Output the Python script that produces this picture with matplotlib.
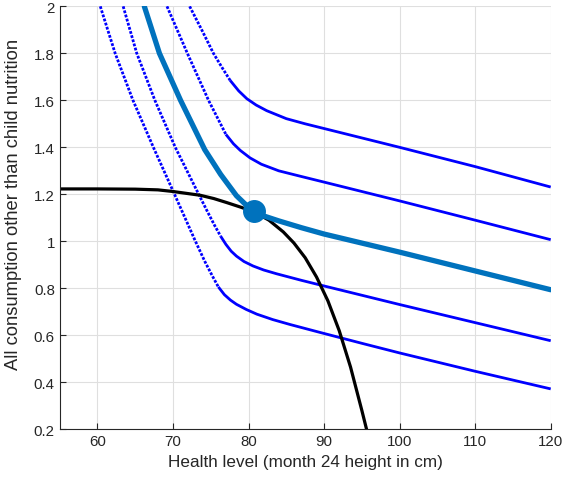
import matplotlib
matplotlib.use("Agg")
import matplotlib.pyplot as plt

plt.rcParams["font.family"] = ["Liberation Sans", "DejaVu Sans"]

# production possibility frontier (health vs other consumption)
ppf_h = [55, 60, 65, 68, 70, 73.6, 75.4, 77.1, 79.0, 80.74, 82.7, 84.6, 86.0, 87.5, 89.0, 90.5, 92.0, 93.5, 95.0, 95.7]
ppf_c = [1.223, 1.223, 1.222, 1.219, 1.212, 1.196, 1.182, 1.165, 1.145, 1.125, 1.09, 1.04, 0.993, 0.93,
         0.848, 0.747, 0.62, 0.465, 0.28, 0.19]

# indifference curves, lowest to highest
ic_a_h = [60.37, 62.34, 64.7, 67.4, 70.2, 72.9, 74.2, 75.2, 76.0, 76.8, 77.6, 78.4, 79.7, 81.1, 83.2,
          85.5, 89.5, 95, 100, 110, 120]
ic_a_c = [2.0, 1.8, 1.6, 1.4, 1.2, 1.005, 0.915, 0.853, 0.806, 0.773, 0.75, 0.732, 0.71, 0.69, 0.667,
          0.646, 0.612, 0.566, 0.525, 0.447, 0.372]

ic_b_h = [63.4, 65.2, 67.6, 70.3, 73.4, 74.5, 75.5, 76.3, 77.0, 77.7, 78.4, 79.4, 80.6, 82.0, 83.7,
          87.0, 90, 100, 110, 120]
ic_b_c = [2.0, 1.8, 1.6, 1.4, 1.2, 1.13, 1.068, 1.022, 0.987, 0.958, 0.937, 0.914, 0.895, 0.878, 0.862,
          0.834, 0.81, 0.731, 0.654, 0.577]

ic_d_h = [69.2, 71.9, 74.7, 77.0, 78.0, 78.9, 80.2, 81.7, 84.0, 86.85, 90, 100, 110, 120]
ic_d_c = [2.0, 1.8, 1.6, 1.455, 1.415, 1.387, 1.355, 1.328, 1.3, 1.277, 1.252, 1.172, 1.09, 1.007]

ic_e_h = [72.2, 73.8, 75.35, 76.5, 77.56, 78.7, 79.77, 81.0, 82.4, 85.0, 87.5, 90, 100, 110, 120]
ic_e_c = [2.0, 1.9, 1.8, 1.739, 1.685, 1.64, 1.607, 1.58, 1.556, 1.522, 1.5, 1.48, 1.4, 1.318, 1.231]

# the curve through the optimum
opt_h = [66.2, 68.2, 71.0, 74.2, 76.3, 78.4, 79.6, 80.74, 82.2, 84.0, 87.0, 90, 100, 110, 120]
opt_c = [2.0, 1.8, 1.6, 1.39, 1.285, 1.194, 1.157, 1.128, 1.106, 1.087, 1.058, 1.031, 0.954, 0.874, 0.794]
best_h, best_c = 80.74, 1.128

fig = plt.figure(figsize=(5.65, 4.89), dpi=100)
ax = fig.add_axes([0.1057, 0.12, 0.869, 0.865])

# steep parts look dotted (sparse samples), flat parts solid
for h, c in [(ic_a_h, ic_a_c), (ic_b_h, ic_b_c), (ic_d_h, ic_d_c), (ic_e_h, ic_e_c)]:
    k = 0
    while k < len(h) - 1 and abs((c[k + 1] - c[k]) / (h[k + 1] - h[k])) > 0.05:
        k += 1
    ax.plot(h[:k + 1], c[:k + 1], color="#0000ff", lw=2.0, linestyle=(0, (1.0, 0.55)), dash_capstyle="butt")
    ax.plot(h[k:], c[k:], color="#0000ff", lw=2.0, solid_capstyle="butt")

ax.plot(ppf_h, ppf_c, color="black", lw=2.3)
ax.plot(opt_h, opt_c, color="#0072BD", lw=3.8, solid_capstyle="round")
ax.plot([best_h], [best_c], "o", color="#0072BD", markersize=15.5)

ax.set_xlim(55, 120)
ax.set_ylim(0.2, 2)
ax.set_xticks(range(60, 121, 10))
ax.set_yticks([0.2, 0.4, 0.6, 0.8, 1, 1.2, 1.4, 1.6, 1.8, 2])
ax.set_yticklabels(["0.2", "0.4", "0.6", "0.8", "1", "1.2", "1.4", "1.6", "1.8", "2"])
ax.grid(True, color="#dfdfdf", lw=0.8)
ax.set_axisbelow(True)
for s in ["top", "right"]:
    ax.spines[s].set_visible(False)
for s in ["left", "bottom"]:
    ax.spines[s].set_color("#262626")
    ax.spines[s].set_linewidth(0.8)
ax.tick_params(direction="in", length=4, labelsize=10.8, colors="#262626", labelcolor="#262626")
ax.set_xlabel("Health level (month 24 height in cm)", fontsize=12.3, color="#262626")
ax.set_ylabel("All consumption other than child nutrition", fontsize=13.2, color="#262626")
ax.yaxis.set_label_coords(-0.077, 0.535)

fig.savefig("out.png", dpi=100)
